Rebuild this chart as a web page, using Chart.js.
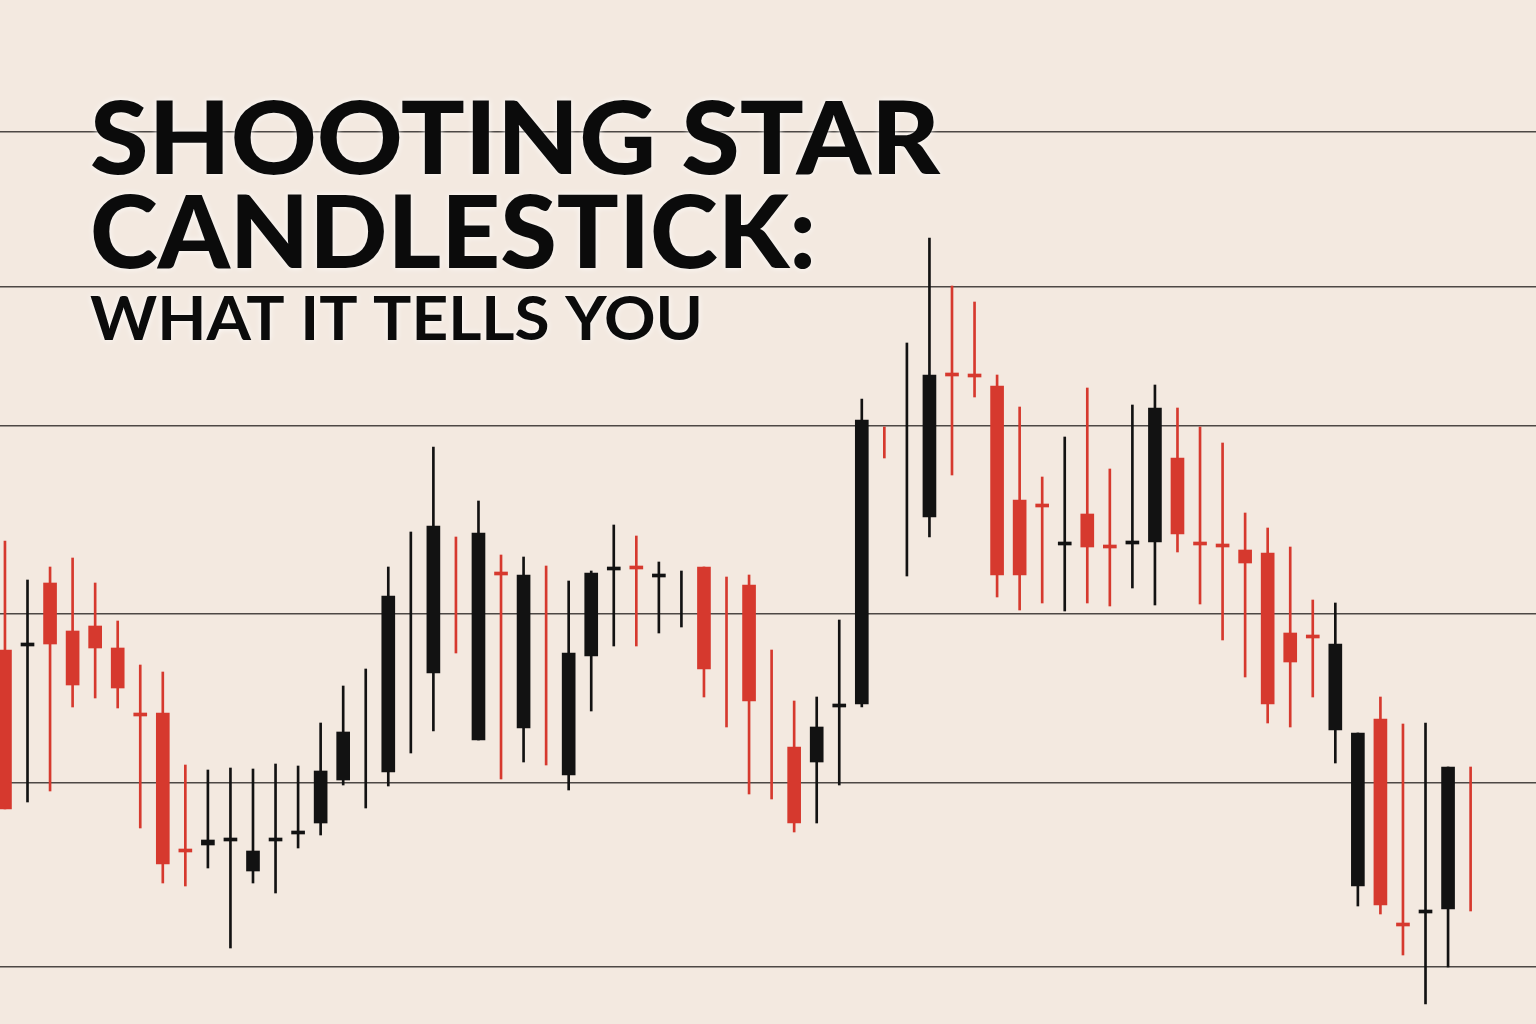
<!DOCTYPE html>
<html>
<head>
<meta charset="utf-8">
<script src="https://cdn.jsdelivr.net/npm/chart.js@4.4.1/dist/chart.umd.min.js"></script>
<style>
  html, body { margin: 0; padding: 0; background: #f3e9e0; }
  #wrap { width: 1536px; height: 1024px; position: relative; }
</style>
</head>
<body>
<div id="wrap"><canvas id="candles"></canvas></div>
<script>
const titleLines = ['SHOOTING STAR', 'CANDLESTICK:', 'WHAT IT TELLS YOU'];

// price levels of the horizontal guide lines
const levels = [89.2, 73.7, 59.8, 41.0, 24.1, 5.7];

// one entry per candle (null = no body, only a wick)
const highs = [48.3, 44.4, 45.7, 46.6, 44.1, 40.3, 35.9, 35.2, 25.9, 25.4,
  25.6, 25.5, 26.0, 25.8, 30.1, 33.8, 35.5, 45.7, 49.2, 57.7,
  48.7, 52.3, 46.9, 46.7, 45.8, 44.3, 45.3, 49.9, 48.8, 46.2,
  45.3, 45.7, 44.7, 44.9, 37.4, 32.3, 32.7, 40.4, 62.5, 59.7,
  68.1, 78.6, 73.8, 72.2, 64.9, 61.7, 54.7, 58.7, 63.6, 55.5,
  61.9, 63.9, 61.6, 59.7, 58.1, 51.1, 49.6, 47.7, 42.4, 42.1,
  29.1, 32.7, 30.0, 30.1, 25.7, 25.7];
const lows = [21.5, 22.2, 23.3, 31.7, 32.6, 31.6, 19.6, 14.1, 13.8, 15.6,
  7.6, 14.1, 13.1, 17.6, 18.9, 23.9, 21.6, 23.8, 27.1, 29.3,
  37.1, 28.4, 24.5, 26.2, 25.9, 23.4, 31.3, 37.8, 37.8, 39.1,
  39.7, 32.7, 29.7, 23.0, 22.5, 19.2, 20.1, 23.9, 31.7, 56.6,
  44.8, 48.7, 54.9, 62.7, 42.7, 41.4, 42.1, 41.3, 42.1, 41.8,
  43.6, 41.9, 47.2, 42.0, 38.4, 34.7, 30.1, 29.7, 32.7, 26.1,
  11.8, 11.0, 6.9, 2.0, 5.7, 11.3];
const opens = [37.4, 37.8, 44.1, 39.3, 39.8, 37.6, 30.8, 31.1, 17.2, 17.9,
  18.3, 15.3, 18.3, 19.0, 20.1, 24.4, null, 25.2, null, 35.1,
  null, 28.4, 44.9, 29.6, null, 24.9, 36.8, 45.4, 45.5, 44.7,
  null, 45.7, null, 43.9, null, 27.7, 26.2, 31.7, 32.0, null,
  null, 50.7, 64.8, 64.7, 63.8, 52.4, 51.7, 47.9, 51.0, 47.6,
  48.0, 48.2, 56.6, 47.9, 47.7, 47.4, 47.1, 39.1, 38.6, 29.4,
  13.8, 30.5, 9.8, 11.1, 11.5, null];
const closes = [21.5, 38.0, 38.0, 33.9, 37.6, 33.6, 30.8, 16.0, 17.2, 18.4,
  18.3, 17.3, 18.3, 19.0, 25.3, 29.2, null, 42.8, null, 49.8,
  null, 49.1, 44.9, 44.9, null, 37.1, 45.1, 45.4, 45.5, 44.7,
  null, 35.5, null, 32.3, null, 20.1, 29.7, 31.7, 60.4, null,
  null, 64.9, 64.8, 64.7, 44.9, 44.9, 51.7, 47.9, 47.7, 47.6,
  48.0, 61.6, 49.0, 47.9, 47.7, 46.1, 32.0, 36.2, 38.6, 38.0,
  29.1, 11.9, 9.8, 11.1, 25.7, null];
const bullish = [0, 1, 0, 0, 0, 0, 0, 0, 0, 1,
  1, 1, 1, 1, 1, 1, 1, 1, 1, 1,
  0, 1, 0, 1, 0, 1, 1, 1, 0, 1,
  1, 0, 0, 0, 0, 0, 1, 1, 1, 0,
  1, 1, 0, 0, 0, 0, 0, 1, 0, 0,
  1, 1, 0, 0, 0, 0, 0, 0, 0, 1,
  1, 0, 0, 1, 1, 0];

const RED = '#d6392e';
const BLACK = '#121212';
const colours = bullish.map(b => b ? BLACK : RED);

var wicks = [];
var bodies = [];
for (let i = 0; i < highs.length; i++) {
  wicks.push({x: i, y: [lows[i], highs[i]]});
  bodies.push({x: i, y: opens[i] === null ? null : [opens[i], closes[i]]});
}

const headline = {
  id: 'headline',
  afterDraw(chart) {
    const c = chart.ctx;
    const rows = [
      {text: titleLines[0], font: '900 101px Lato', base: 174, width: 850},
      {text: titleLines[1], font: '900 101px Lato', base: 268, width: 726},
      {text: titleLines[2], font: '700 62px Lato', base: 340, width: 613}
    ];
    for (const r of rows) {
      c.save();
      c.font = r.font;
      const w = c.measureText(r.text).width;
      c.translate(90, r.base);
      c.scale(r.width / w, 1);
      c.shadowColor = 'rgba(255,255,255,0.9)';
      c.shadowBlur = 6;
      c.fillStyle = '#0b0b0b';
      c.fillText(r.text, 0, 0);
      c.restore();
    }
  }
};

const ctx = document.getElementById('candles');

new Chart(ctx, {
  type: 'bar',
  data: {
    datasets: [
      {
        label: 'body',
        data: bodies,
        backgroundColor: colours,
        barThickness: 13,
        minBarLength: 3,
        grouped: false,
        borderWidth: 0
      },
      {
        label: 'wick',
        data: wicks,
        backgroundColor: colours,
        barThickness: 2,
        grouped: false,
        borderWidth: 0
      }
    ]
  },
  options: {
    responsive: true,
    maintainAspectRatio: false,
    animation: false,
    layout: { padding: 0 },
    plugins: {
      legend: { display: false },
      tooltip: { enabled: false }
    },
    scales: {
      x: {
        type: 'linear',
        min: -0.22,
        max: 67.9,
        offset: false,
        display: false
      },
      y: {
        min: 0,
        max: 102.4,
        afterBuildTicks: (scale) => {
          scale.ticks = levels.map(v => ({value: v}));
        },
        ticks: { display: false },
        border: { display: false },
        grid: { color: '#4d4845', lineWidth: 1.5, drawTicks: false }
      }
    }
  },
  plugins: [headline]
});
</script>
</body>
</html>
